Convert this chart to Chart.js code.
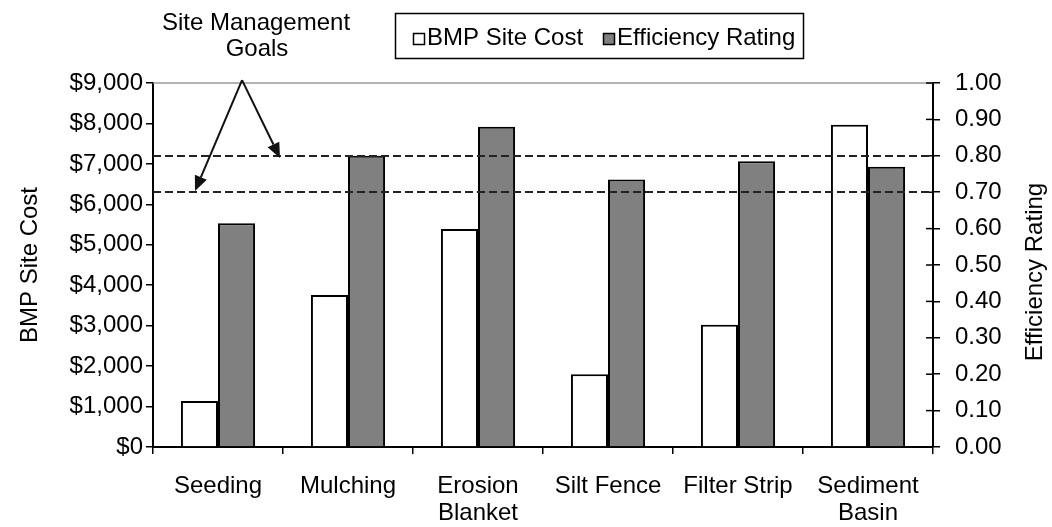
<!DOCTYPE html>
<html>
<head>
<meta charset="utf-8">
<script src="https://cdn.jsdelivr.net/npm/chart.js@4/dist/chart.umd.min.js"></script>
<style>
  html, body { margin: 0; padding: 0; background: #fff; }
  #wrap { width: 1052px; height: 527px; }
</style>
</head>
<body>
<div id="wrap"><canvas id="bmp-chart" width="1052" height="527"></canvas></div>
<script>
const categories = ['Seeding', 'Mulching', ['Erosion', 'Blanket'], 'Silt Fence', 'Filter Strip', ['Sediment', 'Basin']];
const siteCost = [1140, 3760, 5390, 1800, 3020, 7970];
const efficiency = [0.615, 0.80, 0.88, 0.735, 0.785, 0.77];
const goalLines = [0.70, 0.80];
const costTicks = [0, 1000, 2000, 3000, 4000, 5000, 6000, 7000, 8000, 9000];

const FONT = "'Liberation Sans', Arial, sans-serif";

// legend box, goal lines, arrows and the right axis title
const extras = {
  id: 'extras',
  afterDatasetsDraw(chart) {
    const ctx = chart.ctx;
    const { left, right, top } = chart.chartArea;
    const x = chart.scales.x;
    const y1 = chart.scales.y1;

    ctx.save();
    // thin grey top line
    ctx.strokeStyle = '#9a9a9a';
    ctx.lineWidth = 1.5;
    ctx.beginPath();
    ctx.moveTo(left, top);
    ctx.lineTo(right, top);
    ctx.stroke();

    // right axis ticks cross the axis line
    ctx.strokeStyle = '#000';
    ctx.lineWidth = 1.5;
    y1.ticks.forEach(t => {
      const py = y1.getPixelForValue(t.value);
      ctx.beginPath();
      ctx.moveTo(right - 7, py);
      ctx.lineTo(right, py);
      ctx.stroke();
    });

    // goal lines
    ctx.strokeStyle = '#222';
    ctx.lineWidth = 2;
    ctx.setLineDash([8, 4]);
    goalLines.forEach(v => {
      const py = Math.round(y1.getPixelForValue(v));
      ctx.beginPath();
      ctx.moveTo(left, py);
      ctx.lineTo(right, py);
      ctx.stroke();
    });
    ctx.setLineDash([]);

    // arrows from the label to the goal lines
    const step = x.getPixelForValue(1) - x.getPixelForValue(0);
    const px = f => x.getPixelForValue(0) + f * step;
    const apex = [px(0.185), y1.getPixelForValue(1.008)];
    const tips = [[px(-0.177), y1.getPixelForValue(0.703)], [px(0.477), y1.getPixelForValue(0.794)]];
    ctx.strokeStyle = '#111';
    ctx.fillStyle = '#111';
    ctx.lineWidth = 2;
    tips.forEach(t => {
      const ang = Math.atan2(t[1] - apex[1], t[0] - apex[0]);
      const hl = 15, hw = 6.5;
      const bx = t[0] - hl * Math.cos(ang), by = t[1] - hl * Math.sin(ang);
      ctx.beginPath();
      ctx.moveTo(apex[0], apex[1]);
      ctx.lineTo(bx, by);
      ctx.stroke();
      ctx.beginPath();
      ctx.moveTo(t[0], t[1]);
      ctx.lineTo(bx + hw * Math.sin(ang), by - hw * Math.cos(ang));
      ctx.lineTo(bx - hw * Math.sin(ang), by + hw * Math.cos(ang));
      ctx.closePath();
      ctx.fill();
    });

    // annotation text
    ctx.fillStyle = '#000';
    ctx.font = '24px ' + FONT;
    ctx.textAlign = 'center';
    ctx.textBaseline = 'alphabetic';
    ctx.fillText('Site Management', 256, 30);
    ctx.fillText('Goals', 257, 56);

    // legend
    ctx.strokeStyle = '#000';
    ctx.lineWidth = 1.5;
    ctx.strokeRect(395.5, 13.5, 408, 45);
    const items = [[413, chart.data.datasets[0]], [603, chart.data.datasets[1]]];
    ctx.textAlign = 'left';
    items.forEach(([lx, ds]) => {
      ctx.fillStyle = ds.backgroundColor;
      ctx.fillRect(lx, 33, 12, 12);
      ctx.strokeStyle = '#000';
      ctx.lineWidth = 1.5;
      ctx.strokeRect(lx + 0.5, 33.5, 11, 11);
      ctx.fillStyle = '#000';
      ctx.fillText(ds.label, lx + 14, 45);
    });

    // right axis title, reading bottom to top
    ctx.translate(1035, 272);
    ctx.rotate(-Math.PI / 2);
    ctx.textAlign = 'center';
    ctx.textBaseline = 'middle';
    ctx.fillText('Efficiency Rating', 0, 0);
    ctx.restore();
  }
};

const ctx = document.getElementById('bmp-chart').getContext('2d');
new Chart(ctx, {
  type: 'bar',
  data: {
    labels: categories,
    datasets: [{
      label: 'BMP Site Cost',
      data: siteCost,
      yAxisID: 'y',
      backgroundColor: '#ffffff',
      borderColor: '#000',
      borderWidth: 2,
      categoryPercentage: 0.57,
      barPercentage: 1.0
    }, {
      label: 'Efficiency Rating',
      data: efficiency,
      yAxisID: 'y1',
      backgroundColor: '#808080',
      borderColor: '#000',
      borderWidth: 2,
      categoryPercentage: 0.57,
      barPercentage: 1.0
    }]
  },
  options: {
    responsive: false,
    animation: false,
    devicePixelRatio: 1,
    layout: { padding: { top: 83, left: 0, right: 0, bottom: 0 } },
    plugins: {
      legend: { display: false },
      tooltip: { enabled: false }
    },
    scales: {
      x: {
        afterFit: s => { s.height = 80; },
        grid: { offset: true, drawOnChartArea: false, drawTicks: true, tickLength: 7, color: '#000', lineWidth: 1.5 },
        border: { color: '#000', width: 2 },
        ticks: {
          color: '#000',
          padding: 19,
          maxRotation: 0,
          autoSkip: false,
          font: { family: FONT, size: 24, lineHeight: 1.125 }
        }
      },
      y: {
        position: 'left',
        min: 0,
        max: 9000,
        afterFit: s => { s.width = 153; },
        afterBuildTicks: s => { s.ticks = costTicks.map(v => ({ value: v })); },
        grid: { drawOnChartArea: false, tickLength: 7, color: '#000', lineWidth: 1.5 },
        border: { color: '#000', width: 2 },
        title: {
          display: true,
          text: 'BMP Site Cost',
          color: '#000',
          padding: { top: 16, bottom: 0 },
          font: { family: FONT, size: 24 }
        },
        ticks: {
          color: '#000',
          padding: 3,
          font: { family: FONT, size: 24 },
          callback: v => '$' + v.toLocaleString('en-US')
        }
      },
      y1: {
        position: 'right',
        min: 0,
        max: 1,
        afterFit: s => { s.width = 119; },
        grid: { drawOnChartArea: false, tickLength: 7, color: '#000', lineWidth: 1.5 },
        border: { color: '#000', width: 2 },
        ticks: {
          color: '#000',
          padding: 15,
          stepSize: 0.1,
          font: { family: FONT, size: 24 },
          callback: v => Number(v).toFixed(2)
        }
      }
    }
  },
  plugins: [extras]
});
</script>
</body>
</html>
